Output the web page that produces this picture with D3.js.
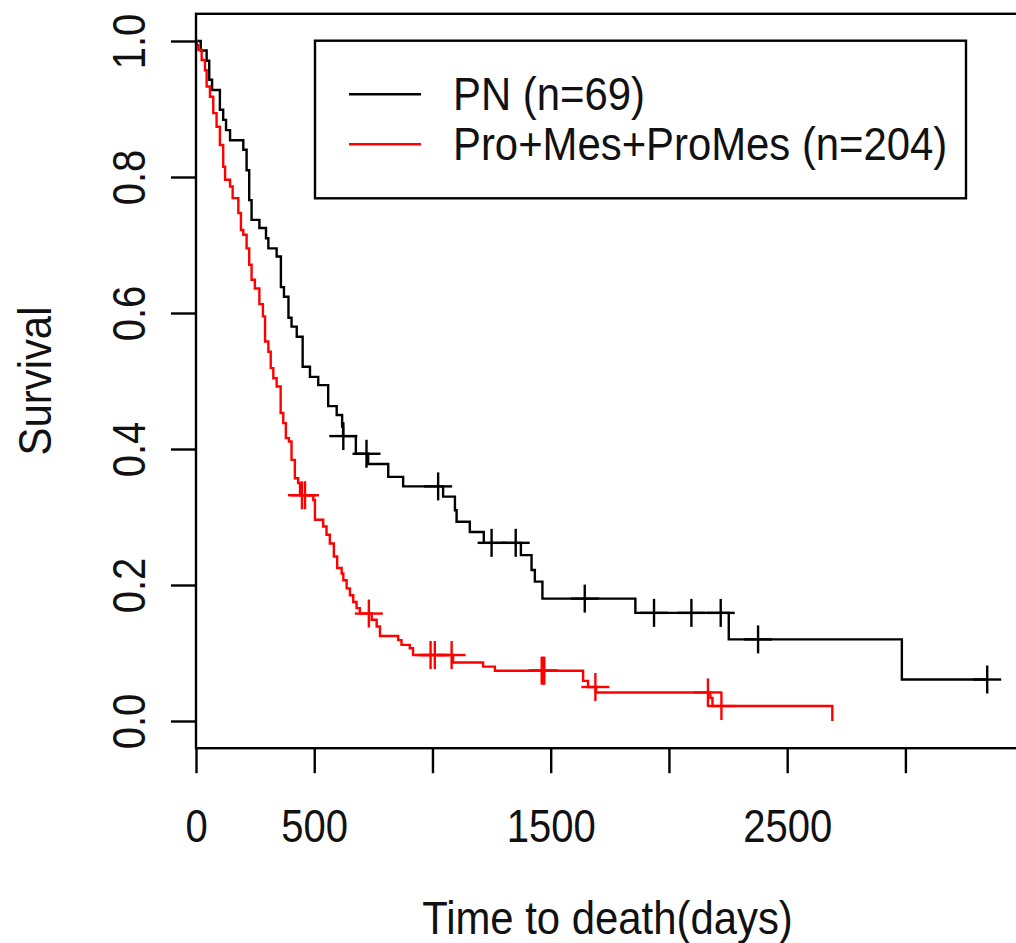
<!DOCTYPE html>
<html lang="en">
<head>
    <meta charset="UTF-8">
    <title>Survival by subtype</title>
    <script src="https://d3js.org/d3.v7.min.js"></script>
    <style>
        body { margin: 0; background: #fff; }
        text { font-family: "Liberation Sans", Arial, sans-serif; }
    </style>
</head>
<body>
    <svg id="chart" width="1016" height="943"></svg>

    <script>
        // PN group: step times (days) and survival after each step
        const pnTime = [0, 20, 45, 56, 68, 101, 115, 127, 144, 200, 214, 225, 235, 268, 296,
            306, 341, 359, 372, 391, 404, 426, 451, 482, 517, 559, 595, 618, 622, 676,
            728, 813, 876, 1045, 1095, 1102, 1158, 1217, 1374, 1419, 1433, 1465, 1858, 2253, 2985];
        const pnSurv = [1, 0.986, 0.971, 0.943, 0.928, 0.899, 0.884, 0.869, 0.854, 0.840, 0.810, 0.766, 0.737, 0.725, 0.710,
            0.695, 0.683, 0.638, 0.624, 0.593, 0.580, 0.565, 0.521, 0.506, 0.494, 0.463, 0.450, 0.433, 0.419, 0.393,
            0.378, 0.359, 0.345, 0.330, 0.310, 0.293, 0.278, 0.262, 0.244, 0.222, 0.205, 0.180, 0.159, 0.120, 0.061];
        const pnCensor = [623, 721, 1024, 1250, 1352, 1644, 1937, 2095, 2219, 2377, 3346];

        // Pro+Mes+ProMes group
        const proTime = [0, 3, 10, 24, 38, 45, 59, 73, 87, 101, 115, 123, 144, 155, 179,
            190, 200, 214, 225, 235, 249, 268, 283, 292, 306, 316, 327, 341, 358, 369,
            380, 393, 404, 418, 432, 440, 496, 503, 538, 552, 566, 583, 597, 616, 623,
            637, 651, 665, 679, 693, 743, 764, 778, 855, 869, 904, 918, 1087, 1214, 1264,
            1637, 1658, 1692, 2175, 2184, 2691];
        const proSurv = [1, 0.994, 0.987, 0.972, 0.957, 0.933, 0.918, 0.894, 0.874, 0.847, 0.815, 0.796, 0.786, 0.769, 0.747,
            0.722, 0.715, 0.695, 0.671, 0.649, 0.636, 0.613, 0.595, 0.558, 0.543, 0.519, 0.504, 0.492, 0.453, 0.438,
            0.416, 0.411, 0.384, 0.357, 0.350, 0.332, 0.325, 0.296, 0.286, 0.274, 0.261, 0.242, 0.225, 0.217, 0.207,
            0.195, 0.185, 0.175, 0.166, 0.158, 0.149, 0.139, 0.125, 0.119, 0.112, 0.107, 0.097, 0.086, 0.080, 0.074,
            0.059, 0.050, 0.042, 0.034, 0.022, 0];
        const proCensor = [448, 461, 731, 992, 1010, 1081, 1462, 1468, 1473, 1689, 2165, 2222];

        const seriesNames = ["PN (n=69)", "Pro+Mes+ProMes (n=204)"];
        const seriesColors = ["#000000", "#ff0000"];

        const xTicks = [0, 500, 1000, 1500, 2000, 2500, 3000];
        const xTickLabels = ["0", "500", "", "1500", "", "2500", ""];
        const yTicks = [0, 0.2, 0.4, 0.6, 0.8, 1.0];

        // layout
        const fontSize = 46;
        const squeeze = 0.87;      // tick labels
        const squeezeWide = 0.91;  // titles and legend
        const lw = 2.4;

        const svg = d3.select("#chart");

        const x = d3.scaleLinear().domain([0, 3000]).range([196, 905.4]);
        const y = d3.scaleLinear().domain([0, 1]).range([721, 41]);

        const boxLeft = x(0), boxRight = x(3480);
        const boxTop = y(1.04), boxBottom = y(-0.04);

        // curves
        function stepPoints(times, surv, censor) {
            const pts = times.map((t, i) => [t, surv[i]]);
            const last = d3.max(censor);
            if (last > times[times.length - 1]) pts.push([last, surv[surv.length - 1]]);
            return pts;
        }

        function survAt(times, surv, t) {
            const i = d3.bisectRight(times, t) - 1;
            return surv[Math.max(0, i)];
        }

        const line = d3.line()
            .x(d => x(d[0]))
            .y(d => y(d[1]))
            .curve(d3.curveStepAfter);

        const groups = [
            { time: pnTime, surv: pnSurv, censor: pnCensor, color: seriesColors[0] },
            { time: proTime, surv: proSurv, censor: proCensor, color: seriesColors[1] }
        ];

        const arm = 14;
        groups.forEach(g => {
            svg.append("path")
                .datum(stepPoints(g.time, g.surv, g.censor))
                .attr("d", line)
                .attr("fill", "none")
                .attr("stroke", g.color)
                .attr("stroke-width", lw);

            const marks = svg.append("g")
                .selectAll("g")
                .data(g.censor)
                .enter().append("g")
                .attr("transform", d => `translate(${x(d)},${y(survAt(g.time, g.surv, d))})`)
                .attr("stroke", g.color)
                .attr("stroke-width", lw);
            marks.append("line").attr("x1", -arm).attr("x2", arm);
            marks.append("line").attr("y1", -arm).attr("y2", arm);
        });

        // plot box
        svg.append("rect")
            .attr("x", boxLeft)
            .attr("y", boxTop)
            .attr("width", boxRight - boxLeft)
            .attr("height", boxBottom - boxTop)
            .attr("fill", "none")
            .attr("stroke", "#000")
            .attr("stroke-width", lw);

        // x axis
        const gx = svg.append("g")
            .attr("transform", `translate(0,${boxBottom})`)
            .call(d3.axisBottom(x).tickValues(xTicks).tickSize(25).tickSizeOuter(0)
                .tickFormat((d, i) => xTickLabels[i]));
        gx.select(".domain").remove();
        gx.selectAll("line").attr("stroke", "#000").attr("stroke-width", lw);
        gx.selectAll("text")
            .attr("y", null).attr("dy", null)
            .attr("transform", `translate(0,94) scale(${squeeze},1)`)
            .attr("font-size", fontSize)
            .attr("font-family", null)
            .attr("fill", "#111");

        // y axis
        const gy = svg.append("g")
            .attr("transform", `translate(${boxLeft},0)`)
            .call(d3.axisLeft(y).tickValues(yTicks).tickSize(25).tickSizeOuter(0)
                .tickFormat(d3.format(".1f")));
        gy.select(".domain").remove();
        gy.selectAll("line").attr("stroke", "#000").attr("stroke-width", lw);
        gy.selectAll("text")
            .attr("x", null).attr("dy", null)
            .attr("text-anchor", "middle")
            .attr("transform", `translate(-51,0) rotate(-90) scale(${squeeze},1)`)
            .attr("font-size", fontSize)
            .attr("font-family", null)
            .attr("fill", "#111");

        // axis titles
        svg.append("text")
            .attr("transform", `translate(${(boxLeft + boxRight) / 2},934) scale(${squeezeWide},1)`)
            .attr("text-anchor", "middle")
            .attr("font-size", fontSize)
            .attr("fill", "#111")
            .text("Time to death(days)");

        svg.append("text")
            .attr("transform", `translate(51,${(boxTop + boxBottom) / 2}) rotate(-90) scale(${squeezeWide},1)`)
            .attr("text-anchor", "middle")
            .attr("font-size", fontSize)
            .attr("fill", "#111")
            .text("Survival");

        // legend
        const legend = svg.append("g");
        legend.append("rect")
            .attr("x", 315).attr("y", 40.7)
            .attr("width", 651).attr("height", 157.6)
            .attr("fill", "#fff")
            .attr("stroke", "#000")
            .attr("stroke-width", lw);

        const rows = legend.selectAll("g.row")
            .data(seriesNames)
            .enter().append("g")
            .attr("class", "row")
            .attr("transform", (d, i) => `translate(0,${94.3 + i * 50})`);
        rows.append("line")
            .attr("x1", 349).attr("x2", 421)
            .attr("stroke", (d, i) => seriesColors[i])
            .attr("stroke-width", lw);
        rows.append("text")
            .attr("transform", `translate(453,16) scale(${squeezeWide},1)`)
            .attr("font-size", fontSize)
            .attr("fill", "#111")
            .text(d => d);
    </script>
</body>
</html>
